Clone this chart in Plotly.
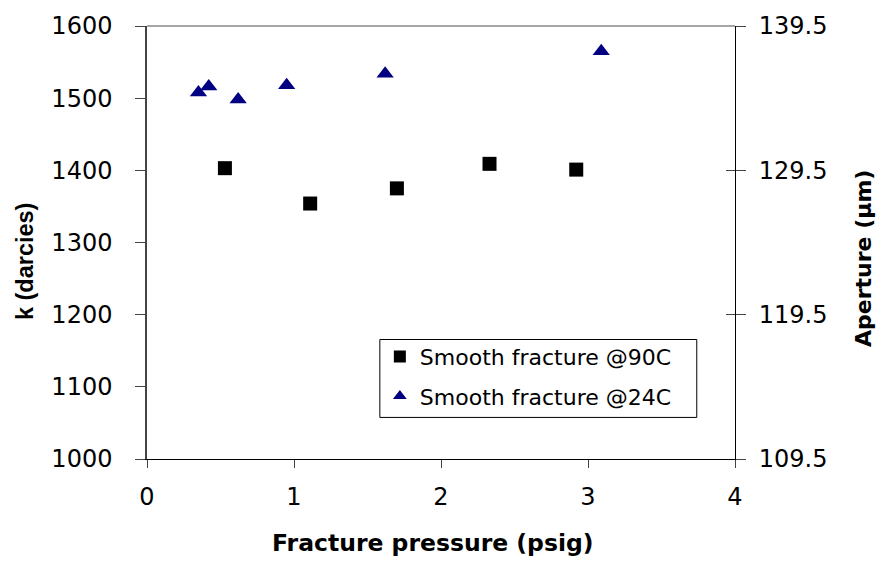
import plotly.graph_objects as go

# Data
p90 = [0.53, 1.11, 1.70, 2.33, 2.92]
k90 = [1403, 1354, 1375, 1409, 1401]
p24 = [0.35, 0.42, 0.62, 0.95, 1.62, 3.09]
k24 = [1508, 1516, 1498, 1518, 1534, 1565]
names = ["Smooth fracture @90C", "Smooth fracture @24C"]
x_ticks = [0, 1, 2, 3, 4]
y_ticks = [1000, 1100, 1200, 1300, 1400, 1500, 1600]
y2_ticks = [109.5, 119.5, 129.5, 139.5]
x_title = "Fracture pressure (psig)"
y_title = "k (darcies)"
y2_title = "Aperture (\u00b5m)"

WIDE = "DejaVu Sans, Verdana, sans-serif"
NARROW = "Liberation Sans, Arial, sans-serif"

fig = go.Figure()
fig.add_trace(go.Scatter(x=p90, y=k90, mode="markers", name=names[0], legendgroup="a",
                         marker=dict(symbol="square", size=14, color="black")))
fig.add_trace(go.Scatter(x=p24, y=k24, mode="markers", name=names[1], legendgroup="b",
                         marker=dict(symbol="triangle-up", size=15, color="#000080")))
fig.add_trace(go.Scatter(x=[None], y=[None], yaxis="y2", showlegend=False))
fig.add_trace(go.Scatter(x=[None], y=[None], yaxis="y3", showlegend=False))

fig.update_layout(
    width=886, height=570,
    margin=dict(l=147, r=151, t=21, b=111),
    paper_bgcolor="white", plot_bgcolor="white",
    font=dict(family=WIDE, color="black"),
    showlegend=True,
    legend=dict(x=0.396, y=0.285, xanchor="left", yanchor="top",
                borderwidth=0, bgcolor="rgba(0,0,0,0)",
                font=dict(size=22, family=WIDE), tracegroupgap=8,
                itemsizing="constant", itemwidth=30),
    xaxis=dict(range=[0, 4], tickvals=x_ticks, ticks="outside", ticklen=8,
               showline=True, linecolor="black", linewidth=1, showgrid=False,
               zeroline=False, tickfont=dict(size=24), ticklabelstandoff=8),
    yaxis=dict(range=[1000, 1600], tickvals=y_ticks, ticks="outside", ticklen=10,
               showline=True, linecolor="#444", linewidth=1.5, showgrid=False,
               zeroline=False, tickfont=dict(size=24), ticklabelstandoff=18),
    yaxis2=dict(range=[109.5, 139.5], tickvals=y2_ticks, ticktext=[f"{v:.1f}" for v in y2_ticks],
                overlaying="y", side="right", ticks="outside", ticklen=10,
                showline=True, linecolor="black", linewidth=1, showgrid=False,
                zeroline=False, tickfont=dict(size=24), ticklabelstandoff=8),
    yaxis3=dict(range=[109.5, 139.5], tickvals=y2_ticks, showticklabels=False,
                overlaying="y", side="right", ticks="inside", ticklen=9,
                showline=False, showgrid=False, zeroline=False),
    shapes=[
        dict(type="line", xref="paper", yref="paper", x0=0, x1=1, y0=1, y1=1,
             line=dict(color="#888", width=1.5)),
        # legend frame
        dict(type="rect", xref="paper", yref="paper", x0=0.396, x1=0.935, y0=0.096, y1=0.276,
             line=dict(color="black", width=1), fillcolor="white", layer="above"),
    ],
    annotations=[
        dict(text=f"<b>{x_title}</b>", xref="paper", yref="paper", x=0.486, y=-0.193,
             xanchor="center", yanchor="middle", showarrow=False,
             font=dict(size=23.5, family=WIDE)),
        dict(text=f"<b>{y_title}</b>", xref="paper", yref="paper", x=-0.2075, y=0.457,
             xanchor="center", yanchor="middle", showarrow=False, textangle=-90,
             font=dict(size=23.5, family=NARROW)),
        dict(text=f"<b>{y2_title}</b>", xref="paper", yref="paper", x=1.2194, y=0.462,
             xanchor="center", yanchor="middle", showarrow=False, textangle=-90,
             font=dict(size=22, family=WIDE)),
    ],
)

fig.write_html("out.html")
